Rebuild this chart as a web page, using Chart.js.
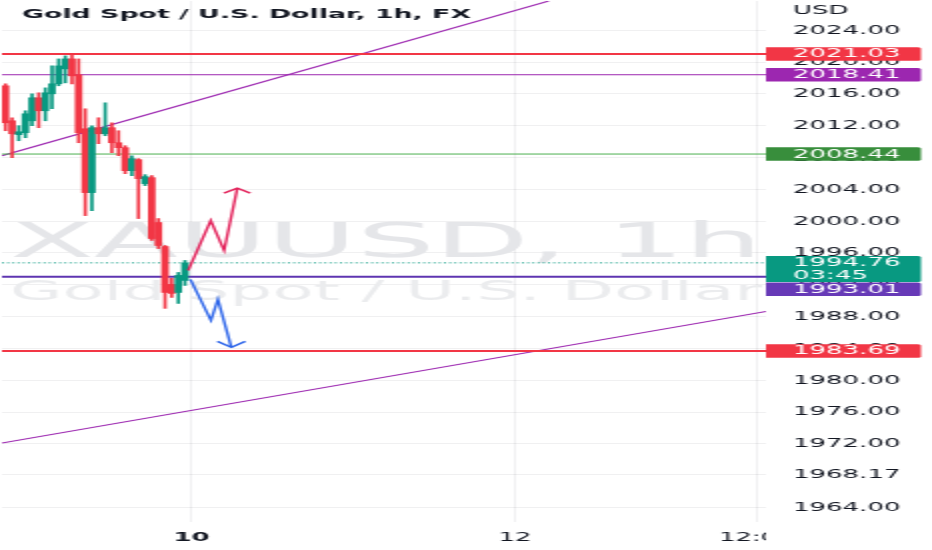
<!DOCTYPE html>
<html>
<head>
<meta charset="utf-8">
<script src="https://cdn.jsdelivr.net/npm/chart.js@4"></script>
<style>
html,body{margin:0;padding:0;background:#ffffff;overflow:hidden;}
#wrap{position:absolute;left:0;top:0;width:466px;height:550px;transform:scaleX(2);transform-origin:0 0;}
</style>
</head>
<body>
<div id="wrap"><canvas id="c"></canvas></div>
<script>
// ---------- data ----------
const candleIndex = [0,1,2,3,4,5,6,7,8,9,10,11,12,13,14,15,16,17,18,19,20,21,22,23,24,25,26,27];
const opens  = [2017.02,2012.62,2010.87,2011.12,2012.62,2015.51,2013.88,2016.01,2017.27,2019.15,2020.40,2018.40,2011.62,2003.59,2011.75,2010.99,2011.75,2009.86,2009.24,2006.35,2007.73,2004.72,2005.47,1999.83,1996.81,1992.05,1991.04,1992.55];
const highs  = [2017.27,2013.00,2012.00,2013.88,2016.01,2016.14,2016.76,2019.52,2020.40,2020.78,2021.03,2020.40,2014.13,2012.00,2013.00,2014.88,2012.37,2011.37,2009.49,2008.23,2007.86,2005.85,2005.72,2000.33,1996.94,1992.80,1993.55,1995.06];
const lows   = [2011.37,2007.98,2010.11,2010.49,2012.00,2011.75,2012.62,2014.13,2017.02,2017.39,2017.27,2009.86,2000.70,2001.33,2009.74,2010.74,2008.61,2008.23,2005.97,2005.72,2000.33,2004.47,1997.57,1996.56,1989.04,1990.42,1989.66,1991.92];
const closes = [2012.37,2010.99,2011.24,2013.50,2015.51,2013.88,2016.14,2017.27,2019.52,2020.40,2018.27,2011.12,2003.59,2011.75,2010.99,2011.75,2009.86,2009.24,2006.35,2007.86,2005.35,2005.60,1997.82,1996.94,1991.04,1990.92,1993.18,1994.76];

const yTickValues = [2024,2020,2016,2012,2008,2004,2000,1996,1992,1988,1984,1980,1976,1972,1968.17,1964];
const xTickPositions = [28, 76.6, 112.9];
const xTickLabels = ['10', '12', '12:00'];
const X_MIN = -0.525, X_MAX = 114.37;
const Y_MIN = 1962.18, Y_MAX = 2027.68;

const levelPrices = [2021.03, 2018.41, 2008.44, 1994.76, 1993.01, 1983.69];
const countdownText = '03:45';

const upperTrendX = [-0.525, 81.7];
const upperTrendY = [2008.23, 2027.68];
const lowerTrendX = [-0.525, 114.37];
const lowerTrendY = [1972.10, 1988.65];

const upArrowX = [27.48, 30.87, 32.88, 34.87];
const upArrowY = [1993.80, 2000.08, 1996.31, 2004.15];
const upHeadX  = [32.85, 34.87, 36.82];
const upHeadY  = [2003.53, 2004.15, 2003.53];
const downArrowX = [27.82, 30.90, 31.95, 33.97];
const downArrowY = [1992.67, 1987.53, 1990.16, 1984.14];
const downHeadX  = [31.87, 33.97, 36.07];
const downHeadY  = [1984.89, 1984.14, 1984.89];

// ---------- styles ----------
const UP = '#089981', DOWN = '#F23645';
const GRID = 'rgba(42,46,57,0.07)';
const TEXT = '#131722';
const FONT = '"DejaVu Sans", sans-serif';
const levelStyles = [
  {line:'#F23645', width:2, dash:[], badge:'#F23645'},
  {line:'#9C27B0', width:1, dash:[], badge:'#9C27B0'},
  {line:'#4CAF50', width:1, dash:[], badge:'#388E3C'},
  {line:'#089981', width:1, dash:[1,1.6], badge:'#089981'},
  {line:'#5E35B1', width:2, dash:[], badge:'#673AB7'},
  {line:'#F23645', width:2, dash:[], badge:'#F23645'}
];

const pts = (xs, ys) => xs.map((x, i) => ({x, y: ys[i]}));
const candleColor = i => closes[i] >= opens[i] ? UP : DOWN;

const datasets = [];
datasets.push({type:'line', data: pts(upArrowX, upArrowY), borderColor:'#E3245C', borderWidth:1.4, pointRadius:0, fill:false, tension:0, order:0, clip:0});
datasets.push({type:'line', data: pts(upHeadX, upHeadY), borderColor:'#E3245C', borderWidth:1.4, pointRadius:0, fill:false, tension:0, order:0, clip:0});
datasets.push({type:'line', data: pts(downArrowX, downArrowY), borderColor:'#2E66EA', borderWidth:1.4, pointRadius:0, fill:false, tension:0, order:0, clip:0});
datasets.push({type:'line', data: pts(downHeadX, downHeadY), borderColor:'#2E66EA', borderWidth:1.4, pointRadius:0, fill:false, tension:0, order:0, clip:0});
datasets.push({type:'bar', data: candleIndex.map((x,i)=>({x, y:[opens[i], closes[i]]})), backgroundColor: c => candleColor(c.dataIndex), barThickness:3.1, grouped:false, minBarLength:1, order:1});
datasets.push({type:'bar', data: candleIndex.map((x,i)=>({x, y:[lows[i], highs[i]]})), backgroundColor: c => candleColor(c.dataIndex), barThickness:1, grouped:false, order:2});
levelPrices.forEach((p, i) => {
  const s = levelStyles[i];
  datasets.push({type:'line', data: pts([X_MIN, X_MAX], [p, p]), borderColor:s.line, borderWidth:s.width, borderDash:s.dash, pointRadius:0, fill:false, tension:0, order:3, clip:0});
});
datasets.push({type:'line', data: pts(upperTrendX, upperTrendY), borderColor:'#9C27B0', borderWidth:1.1, pointRadius:0, fill:false, tension:0, order:3, clip:0});
datasets.push({type:'line', data: pts(lowerTrendX, lowerTrendY), borderColor:'#9C27B0', borderWidth:1.1, pointRadius:0, fill:false, tension:0, order:3, clip:0});

function fitText(ctx, text, x, y, font, width, color) {
  ctx.save();
  ctx.font = font; ctx.fillStyle = color; ctx.textAlign = 'left'; ctx.textBaseline = 'alphabetic';
  const w = ctx.measureText(text).width;
  ctx.translate(x, y); ctx.scale(width / w, 1);
  ctx.fillText(text, 0, 0);
  ctx.restore();
}

const overlay = {
  id: 'overlay',
  beforeDatasetsDraw(chart) {
    const {ctx, chartArea: a} = chart;
    ctx.save();
    ctx.beginPath(); ctx.rect(a.left, a.top, a.right - a.left, a.bottom - a.top); ctx.clip();
    fitText(ctx, 'XAUUSD, 1h', 5, 257, '48px ' + FONT, 376, '#e5e6e9');
    fitText(ctx, 'Gold Spot / U.S. Dollar', 5, 300, '26px ' + FONT, 376, '#ebecee');
    ctx.restore();
  },
  afterDraw(chart) {
    const {ctx, chartArea: a, width: W, height: H} = chart;
    const ys = chart.scales.y;
    ctx.save();
    // hide x label overflow under price axis
    ctx.fillStyle = '#ffffff';
    ctx.fillRect(a.right, a.bottom, W - a.right, H - a.bottom);
    // title and currency
    fitText(ctx, 'Gold Spot / U.S. Dollar, 1h, FX', 11, 18.3, 'bold 12.5px ' + FONT, 224.5, TEXT);
    ctx.font = '13px ' + FONT; ctx.fillStyle = TEXT; ctx.textBaseline = 'middle'; ctx.textAlign = 'left';
    ctx.fillText('USD', 396.5, 11);
    // badges
    const badges = levelPrices.map((p, i) => {
      const lines = [p.toFixed(2)];
      if (i === 3) lines.push(countdownText);
      const h = lines.length === 1 ? 13.5 : 26;
      return {top: ys.getPixelForValue(p) - 6.75, h, lines, color: levelStyles[i].badge};
    }).sort((m, n) => m.top - n.top);
    let prevBottom = -Infinity;
    badges.forEach(b => {
      if (b.top < prevBottom + 0.5) b.top = prevBottom + 0.5;
      prevBottom = b.top + b.h;
      ctx.fillStyle = b.color;
      ctx.beginPath();
      ctx.roundRect(a.right, b.top, 77.5, b.h, [0, 1.5, 1.5, 0]);
      ctx.fill();
      ctx.fillStyle = '#ffffff';
      ctx.font = '13px ' + FONT; ctx.textBaseline = 'middle'; ctx.textAlign = 'left';
      b.lines.forEach((t, k) => ctx.fillText(t, 396.5, b.top + 6.9 + k * 12.5));
    });
    ctx.restore();
  }
};

new Chart(document.getElementById('c'), {
  type: 'bar',
  data: { datasets },
  plugins: [overlay],
  options: {
    responsive: true,
    maintainAspectRatio: false,
    animation: false,
    devicePixelRatio: 1,
    layout: { padding: 0 },
    plugins: { legend: {display:false}, tooltip: {enabled:false}, title: {display:false} },
    scales: {
      x: {
        type: 'linear', min: X_MIN, max: X_MAX, offset: false,
        grid: { color: GRID, drawTicks: false, offset: false },
        border: { display: false },
        ticks: {
          autoSkip: false, maxRotation: 0, minRotation: 0, padding: 8, color: TEXT,
          font: c => ({family: FONT, size: 13, weight: c.index === 0 ? 'bold' : 'normal'}),
          callback: (v, i) => xTickLabels[i]
        },
        afterBuildTicks: s => { s.ticks = xTickPositions.map(v => ({value: v})); },
        afterFit: s => { s.height = 28; s.paddingLeft = 0; s.paddingRight = 0; }
      },
      y: {
        type: 'linear', position: 'right', min: Y_MIN, max: Y_MAX,
        grid: { color: GRID, drawTicks: false },
        border: { display: false },
        ticks: { padding: 13.5, color: TEXT, font: {family: FONT, size: 13}, callback: v => Number(v).toFixed(2) },
        afterBuildTicks: s => { s.ticks = yTickValues.map(v => ({value: v})); },
        afterFit: s => { s.width = 83; s.paddingTop = 0; s.paddingBottom = 0; }
      }
    }
  }
});
</script>
</body>
</html>
